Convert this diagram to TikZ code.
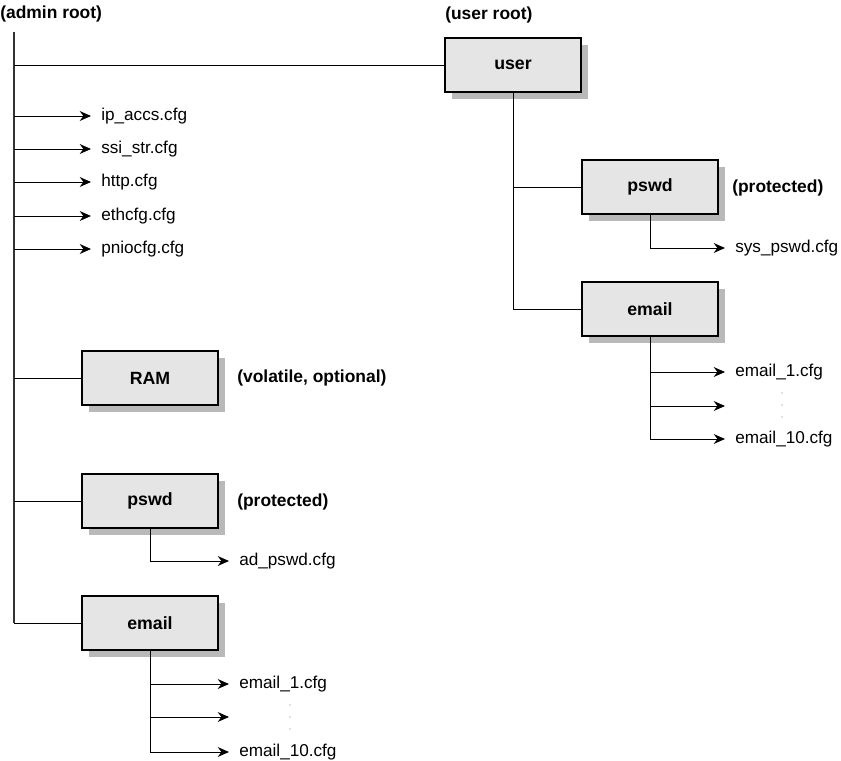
\documentclass[tikz,border=0pt]{standalone}
\usepackage{fontspec}
\setmainfont{Liberation Sans}
\usepackage{tikz}
\usetikzlibrary{arrows.meta,positioning,calc,shadows}
\definecolor{boxgray}{RGB}{229,229,229}
\definecolor{shadegray}{RGB}{185,185,185}

\begin{document}
\begin{tikzpicture}[x=0.25mm,y=-0.25mm,
    dirbox/.style={draw,line width=0.9pt,fill=boxgray,minimum width=34mm,
      minimum height=13.5mm,font=\fontsize{12.6}{14}\selectfont\bfseries,
      drop shadow={shadow xshift=1.75mm,shadow yshift=-1.75mm,
        fill=shadegray,opacity=1}},
    filelbl/.style={anchor=west,inner xsep=2.5mm,inner ysep=0pt,
      font=\fontsize{12.2}{14}\selectfont},
    note/.style={anchor=west,inner sep=0pt,
      font=\fontsize{12.4}{14}\selectfont\bfseries},
    branch/.style={line width=0.7pt},
    arr/.style={line width=0.7pt,-{Stealth[length=8pt,width=7pt]}}]
        \useasboundingbox (0,0) rectangle (841,760);
        %% admin root
        \node[note] (adminroot) at (0,14) {(admin root)};
        \coordinate (admtop) at (14,32);
        \coordinate (admbot) at (14,623);
        \node[filelbl] (ipaccs) at (91,116) {ip\_accs.cfg};
        \node[filelbl] (ssistr) at (91,149) {ssi\_str.cfg};
        \node[filelbl] (http) at (91,182) {http.cfg};
        \node[filelbl] (ethcfg) at (91,216) {ethcfg.cfg};
        \node[filelbl] (pniocfg) at (91,249) {pniocfg.cfg};
        \node[dirbox] (ram) at (150,378) {RAM};
        \node[note] (ramnote) at (237,378) {(volatile, optional)};
        \node[dirbox] (apswd) at (150,501) {pswd};
        \node[note] (apswdnote) at (237,502) {(protected)};
        \node[filelbl] (adpswd) at (229,561) {ad\_pswd.cfg};
        \node[dirbox] (aemail) at (150,623) {email};
        \node[filelbl] (aemail1) at (229,684) {email\_1.cfg};
        \coordinate (aemailmid) at (229,717);
        \node[filelbl] (aemail10) at (229,752) {email\_10.cfg};
        %% user root
        \node[note] (userroot) at (445,15) {(user root)};
        \node[dirbox] (user) at (513,65) {user};
        \node[dirbox] (upswd) at (650,187) {pswd};
        \node[note] (upswdnote) at (732,188) {(protected)};
        \node[filelbl] (syspswd) at (725,248) {sys\_pswd.cfg};
        \node[dirbox] (uemail) at (650,309) {email};
        \node[filelbl] (uemail1) at (725,372) {email\_1.cfg};
        \coordinate (uemailmid) at (725,406);
        \node[filelbl] (uemail10) at (725,439) {email\_10.cfg};
        %% admin tree
        \draw[line width=1.1pt,black!80] (admtop) -- (admbot);
        \draw[branch] (admbot) -- (aemail.west);
        \draw[branch] (user.west -| admtop) -- (user.west);
        \foreach \f in {ipaccs,ssistr,http,ethcfg,pniocfg}
          \draw[arr] (\f.west -| admtop) -- (\f.west);
        \draw[branch] (ram.west -| admtop) -- (ram.west);
        \draw[branch] (apswd.west -| admtop) -- (apswd.west);
        \draw[arr] (apswd.south) |- (adpswd.west);
        \draw[arr] (aemail.south) |- (aemail10.west);
        \draw[arr] (aemail1.west -| aemail.south) -- (aemail1.west);
        \draw[arr] (aemailmid -| aemail.south) -- (aemailmid);
        %% user tree
        \draw[branch] (user.south) |- (uemail.west);
        \draw[branch] (upswd.west -| user.south) -- (upswd.west);
        \draw[arr] (upswd.south) |- (syspswd.west);
        \draw[arr] (uemail.south) |- (uemail10.west);
        \draw[arr] (uemail1.west -| uemail.south) -- (uemail1.west);
        \draw[arr] (uemailmid -| uemail.south) -- (uemailmid);
        %% dots
        \foreach \y in {705,717,729}
          \fill[gray] (290,\y) circle (0.6);
        \foreach \y in {393,405,417}
          \fill[gray] (782,\y) circle (0.6);
      \end{tikzpicture}
\end{document}
